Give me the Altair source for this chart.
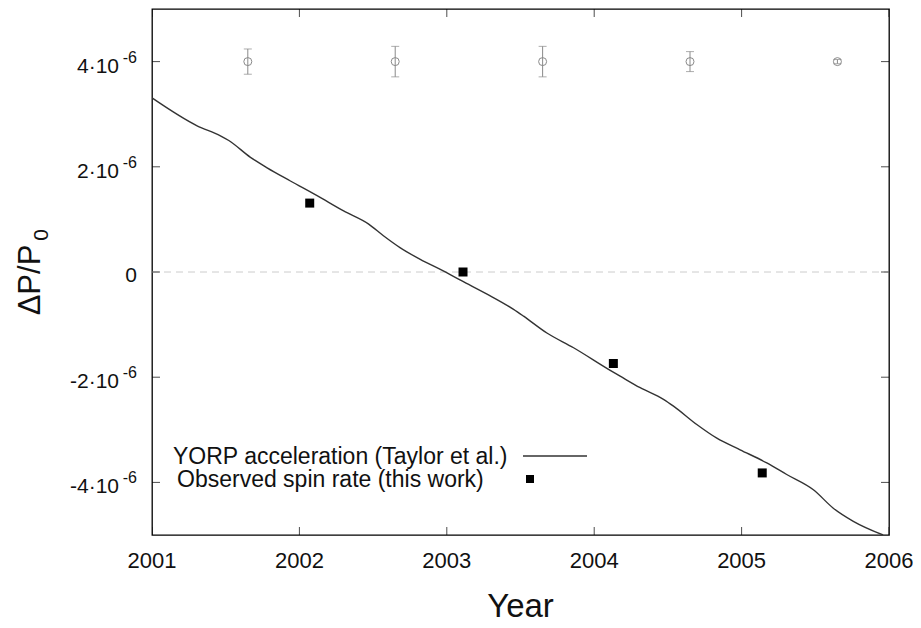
import altair as alt
import pandas as pd

# ---------------- data (y values in units of 1e-6) ----------------
yorp_year = [2001.0, 2001.306, 2001.464, 2001.521, 2001.668, 2001.781, 2001.939,
             2002.12, 2002.30, 2002.47, 2002.57, 2002.685, 2002.82, 2002.956,
             2003.103, 2003.273, 2003.453, 2003.521, 2003.679, 2003.86, 2004.097,
             2004.176, 2004.312, 2004.47, 2004.538, 2004.696, 2004.832, 2004.99,
             2005.171, 2005.306, 2005.487, 2005.622, 2005.758, 2005.96]
yorp_dp = [3.31, 2.78, 2.59, 2.50, 2.18, 1.98, 1.73,
           1.45, 1.16, 0.91, 0.69, 0.46, 0.24, 0.05,
           -0.17, -0.42, -0.71, -0.84, -1.16, -1.44, -1.85,
           -1.98, -2.20, -2.42, -2.55, -2.90, -3.16, -3.38,
           -3.63, -3.85, -4.14, -4.49, -4.74, -5.0]

obs_year = [2002.07, 2003.11, 2004.13, 2005.14]
obs_dp = [1.31, 0.0, -1.74, -3.82]

err_year = [2001.65, 2002.65, 2003.65, 2004.65, 2005.65]
err_center = [4.0, 4.0, 4.0, 4.0, 4.0]
err_half = [0.24, 0.29, 0.29, 0.19, 0.04]

x_ticks = [2001, 2002, 2003, 2004, 2005, 2006]
y_ticks = [-4, -2, 0, 2, 4]
y_tick_main = ["-4·10", "-2·10", "0", "2·10", "4·10"]
y_tick_sup = ["-6", "-6", "", "-6", "-6"]

legend_labels = ["YORP acceleration (Taylor et al.)", "Observed spin rate (this work)"]
x_title = "Year"
y_title_main = "ΔP/P"
y_title_sub = "0"

X_DOMAIN = [2001, 2006]
Y_DOMAIN = [-5, 5]
W, H = 737, 526
FONT = "Liberation Sans"
INK = "#111111"

xs = alt.Scale(domain=X_DOMAIN, nice=False, zero=False)
ys = alt.Scale(domain=Y_DOMAIN, nice=False, zero=False)

yorp_df = pd.DataFrame({"x": yorp_year, "y": yorp_dp})
obs_df = pd.DataFrame({"x": obs_year, "y": obs_dp})
err_df = pd.DataFrame({"x": err_year, "y": err_center, "e": err_half})
err_df["lo"] = err_df["y"] - err_df["e"]
err_df["hi"] = err_df["y"] + err_df["e"]
xt_df = pd.DataFrame({"x": x_ticks, "lab": [str(v) for v in x_ticks],
                      "ylo": Y_DOMAIN[0], "yhi": Y_DOMAIN[1]})
yt_df = pd.DataFrame({"y": y_ticks, "main": y_tick_main, "sup": y_tick_sup,
                      "xlo": X_DOMAIN[0], "xhi": X_DOMAIN[1]})
zero_df = pd.DataFrame({"y": [0], "x1": [X_DOMAIN[0]], "x2": [X_DOMAIN[1]]})


def X(f="x"):
    return alt.X(f"{f}:Q", scale=xs, axis=None)


def Y(f="y"):
    return alt.Y(f"{f}:Q", scale=ys, axis=None)


zero_line = alt.Chart(zero_df).mark_rule(
    color="#cccccc", strokeDash=[7, 5], strokeWidth=1
).encode(y=Y(), x=X("x1"), x2="x2:Q")

yorp_line = alt.Chart(yorp_df).mark_line(
    color="#333333", strokeWidth=1.4, clip=True, interpolate="monotone"
).encode(x=X(), y=Y())

obs_pts = alt.Chart(obs_df).mark_square(
    color="black", size=81, opacity=1
).encode(x=X(), y=Y())

GRAY = "#8a8a8a"
err_bars = alt.Chart(err_df).mark_rule(color=GRAY, strokeWidth=1).encode(
    x=X(), y=Y("lo"), y2="hi:Q")
err_cap_lo = alt.Chart(err_df).mark_tick(color=GRAY, thickness=1, size=8,
                                          orient="horizontal").encode(x=X(), y=Y("lo"))
err_cap_hi = alt.Chart(err_df).mark_tick(color=GRAY, thickness=1, size=8,
                                          orient="horizontal").encode(x=X(), y=Y("hi"))
err_circ = alt.Chart(err_df).mark_point(
    shape="circle", size=64, color=GRAY, strokeWidth=1, filled=False, opacity=1
).encode(x=X(), y=Y())

# inward tick marks on all four sides
tick_bottom = alt.Chart(xt_df).mark_tick(orient="vertical", size=16, thickness=1,
                                         color="black", clip=True).encode(
    x=X(), y=Y("ylo"))
tick_top = alt.Chart(xt_df).mark_tick(orient="vertical", size=16, thickness=1,
                                      color="black", clip=True).encode(
    x=X(), y=Y("yhi"))
tick_left = alt.Chart(yt_df).mark_tick(orient="horizontal", size=16, thickness=1,
                                       color="black", clip=True).encode(
    y=Y(), x=X("xlo"))
tick_right = alt.Chart(yt_df).mark_tick(orient="horizontal", size=16, thickness=1,
                                        color="black", clip=True).encode(
    y=Y(), x=X("xhi"))

# tick labels
x_labels = alt.Chart(xt_df).mark_text(font=FONT, fontSize=22, align="center",
                                      baseline="alphabetic", color=INK).encode(
    x=X(), y=alt.value(H + 33), text="lab:N")
y_main_nz = alt.Chart(yt_df).transform_filter("datum.y != 0").mark_text(
    font=FONT, fontSize=21, align="right", baseline="alphabetic", dy=11, color=INK
).encode(y=Y(), x=alt.value(-33), text="main:N")
y_sup = alt.Chart(yt_df).transform_filter("datum.y != 0").mark_text(
    font=FONT, fontSize=16, align="right", baseline="alphabetic", dy=1, color=INK
).encode(y=Y(), x=alt.value(-15), text="sup:N")
y_zero = alt.Chart(yt_df).transform_filter("datum.y == 0").mark_text(
    font=FONT, fontSize=21, align="right", baseline="alphabetic", dy=9.5, color=INK
).encode(y=Y(), x=alt.value(-15), text="main:N")

# axis titles
x_tit = alt.Chart(pd.DataFrame({"t": [x_title]})).mark_text(
    font=FONT, fontSize=33, align="center", baseline="alphabetic", color=INK
).encode(x=alt.value(W / 2), y=alt.value(H + 82), text="t:N")
y_tit = alt.Chart(pd.DataFrame({"t": [y_title_main]})).mark_text(
    font=FONT, fontSize=31, align="center", baseline="alphabetic", angle=270, color=INK
).encode(x=alt.value(-112), y=alt.value(271), text="t:N")
y_tit_sub = alt.Chart(pd.DataFrame({"t": [y_title_sub]})).mark_text(
    font=FONT, fontSize=21, align="center", baseline="alphabetic", angle=270, color=INK
).encode(x=alt.value(-104), y=alt.value(226), text="t:N")

# legend
leg1 = pd.DataFrame({"t": [legend_labels[0]]})
leg2 = pd.DataFrame({"t": [legend_labels[1]]})
leg_t1 = alt.Chart(leg1).mark_text(
    font=FONT, fontSize=23, align="left", baseline="alphabetic", color=INK
).encode(x=alt.value(21), y=alt.value(455), text="t:N")
leg_t2 = alt.Chart(leg2).mark_text(
    font=FONT, fontSize=23, align="left", baseline="alphabetic", color=INK
).encode(x=alt.value(25), y=alt.value(478), text="t:N")
leg_line = alt.Chart(leg1).mark_rule(color="#333333", strokeWidth=1.4).encode(
    x=alt.value(371), x2=alt.value(435), y=alt.value(447))
leg_sq = alt.Chart(leg2).mark_square(color="black", size=64, opacity=1).encode(
    x=alt.value(378), y=alt.value(470))

chart = alt.layer(
    zero_line, yorp_line, err_bars, err_cap_lo, err_cap_hi, err_circ, obs_pts,
    tick_bottom, tick_top, tick_left, tick_right,
    x_labels, y_main_nz, y_sup, y_zero, x_tit, y_tit, y_tit_sub,
    leg_t1, leg_t2, leg_line, leg_sq,
).properties(
    width=W, height=H,
    autosize=alt.AutoSizeParams(type="none"),
    padding={"left": 144, "top": 1, "right": 24, "bottom": 92},
    background="white",
).configure_view(
    stroke="black", strokeWidth=1.3
)

chart.save("out.html", embed_options={"renderer": "svg", "actions": False})
